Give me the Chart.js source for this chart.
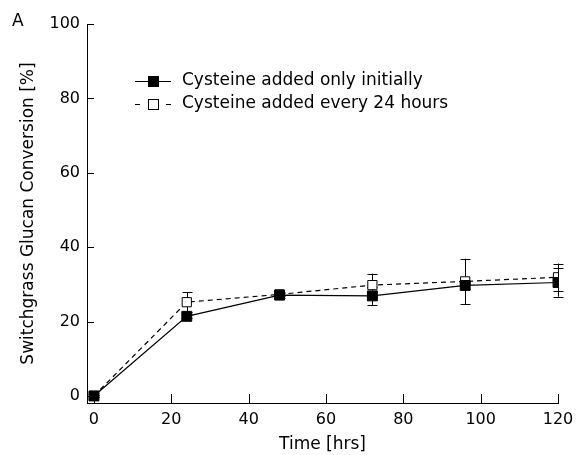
<!DOCTYPE html>
<html>
<head>
<meta charset="utf-8">
<script src="https://cdn.jsdelivr.net/npm/chart.js@4.4.1/dist/chart.umd.min.js"></script>
<style>
  html, body { margin: 0; padding: 0; background: #fff; }
  canvas { display: block; }
</style>
</head>
<body>
<canvas id="glucanChart" width="577" height="455"></canvas>
<script>
// values
const hours = [0, 24, 48, 72, 96, 120];
const initialOnly = [0, 21.4, 27.1, 26.9, 29.7, 30.5];
const initialOnlyErr = [0.3, 0.5, 0.8, 2.4, 1.0, 3.8];
const every24 = [0, 25.2, 27.3, 29.8, 30.8, 31.9];
const every24Err = [0.3, 2.7, 0.5, 3.1, 6.1, 3.7];
const xTicks = [0, 20, 40, 60, 80, 100, 120];
const yTicks = [0, 20, 40, 60, 80, 100];
const seriesNames = ['Cysteine added only initially', 'Cysteine added every 24 hours'];

const FONT = '"DejaVu Sans", sans-serif';

function toPoints(ys) {
    return hours.map((h, i) => ({ x: h, y: ys[i] }));
}

// error bars, drawn under the markers
const errorBars = {
    id: 'errorBars',
    beforeDatasetsDraw(chart) {
        const ctx = chart.ctx;
        const xs = chart.scales.x, ys = chart.scales.y;
        ctx.save();
        ctx.strokeStyle = '#000';
        ctx.lineWidth = 1;
        chart.data.datasets.forEach(ds => {
            ds.data.forEach((p, i) => {
                const e = ds.errors[i];
                if (!e) return;
                const px = Math.round(xs.getPixelForValue(p.x)) + 0.5;
                const top = ys.getPixelForValue(p.y + e);
                const bot = ys.getPixelForValue(p.y - e);
                ctx.beginPath();
                ctx.moveTo(px, top); ctx.lineTo(px, bot);
                ctx.moveTo(px - 5, Math.round(top) + 0.5); ctx.lineTo(px + 5, Math.round(top) + 0.5);
                ctx.moveTo(px - 5, Math.round(bot) + 0.5); ctx.lineTo(px + 5, Math.round(bot) + 0.5);
                ctx.stroke();
            });
        });
        ctx.restore();
    }
};

// inward tick marks, panel letter and the legend inside the plot
const decorations = {
    id: 'decorations',
    afterDraw(chart) {
        const ctx = chart.ctx;
        const xs = chart.scales.x, ys = chart.scales.y;
        const area = chart.chartArea;
        ctx.save();
        ctx.strokeStyle = '#000';
        ctx.lineWidth = 1;
        ctx.beginPath();
        yTicks.forEach(v => {
            const py = Math.round(ys.getPixelForValue(v)) + 0.5;
            ctx.moveTo(area.left, py); ctx.lineTo(area.left + 7, py);
        });
        xTicks.forEach(v => {
            const px = Math.round(xs.getPixelForValue(v)) + 0.5;
            ctx.moveTo(px, area.bottom); ctx.lineTo(px, area.bottom - 9);
        });
        ctx.stroke();

        ctx.fillStyle = '#000';
        ctx.font = '17px ' + FONT;
        ctx.textBaseline = 'middle';
        ctx.textAlign = 'left';
        ctx.fillText('A', 12, 22);

        const rows = [81, 104];
        chart.data.datasets.forEach((ds, i) => {
            const y = rows[i] + 0.5;
            ctx.strokeStyle = '#000';
            ctx.lineWidth = 1;
            ctx.beginPath();
            if (ds.borderDash && ds.borderDash.length) {
                ctx.moveTo(135, y); ctx.lineTo(140, y);
                ctx.moveTo(166, y); ctx.lineTo(171, y);
            } else {
                ctx.moveTo(135, y); ctx.lineTo(171, y);
            }
            ctx.stroke();
            ctx.fillStyle = ds.pointBackgroundColor;
            ctx.fillRect(148.5, y - 5, 10, 10);
            ctx.strokeRect(148.5, y - 5, 10, 10);
            ctx.fillStyle = '#000';
            ctx.fillText(ds.label, 182, rows[i]);
        });
        ctx.restore();
    }
};

const tickFont = { family: FONT, size: 16 };
const titleFont = { family: FONT, size: 17 };

new Chart(document.getElementById('glucanChart').getContext('2d'), {
    type: 'line',
    data: {
        datasets: [
            {
                label: seriesNames[0],
                data: toPoints(initialOnly),
                errors: initialOnlyErr,
                borderColor: '#000',
                borderWidth: 1.2,
                pointStyle: 'rect',
                pointRadius: 7,
                pointBackgroundColor: '#000',
                pointBorderColor: '#000',
                pointBorderWidth: 1,
                tension: 0
            },
            {
                label: seriesNames[1],
                data: toPoints(every24),
                errors: every24Err,
                borderColor: '#000',
                borderWidth: 1.2,
                borderDash: [5, 4],
                pointStyle: 'rect',
                pointRadius: 6.5,
                pointBackgroundColor: '#fff',
                pointBorderColor: '#000',
                pointBorderWidth: 1,
                tension: 0
            }
        ]
    },
    options: {
        responsive: false,
        animation: false,
        layout: { padding: { left: 0, right: 19, top: 24, bottom: 0 } },
        plugins: {
            legend: { display: false },
            tooltip: { enabled: false }
        },
        scales: {
            x: {
                type: 'linear',
                min: -1.8,
                max: 120,
                afterBuildTicks: s => { s.ticks = xTicks.map(v => ({ value: v })); },
                afterFit: s => { s.height = 52; s.paddingLeft = 0; s.paddingRight = 0; },
                grid: { display: false, drawTicks: false },
                border: { display: true, color: '#000', width: 1 },
                ticks: { color: '#000', font: tickFont, padding: 7, maxRotation: 0 },
                title: { display: true, text: 'Time [hrs]', color: '#000', font: titleFont, padding: { top: 3, bottom: 0 } }
            },
            y: {
                min: -1.9,
                max: 100,
                afterBuildTicks: s => { s.ticks = yTicks.map(v => ({ value: v })); },
                afterFit: s => { s.width = 87; s.paddingTop = 0; s.paddingBottom = 0; },
                grid: { display: false, drawTicks: false },
                border: { display: true, color: '#000', width: 1 },
                ticks: { color: '#000', font: tickFont, padding: 7 },
                title: { display: true, text: 'Switchgrass Glucan Conversion [%]', color: '#000', font: titleFont, padding: { top: 18, bottom: 0 } }
            }
        }
    },
    plugins: [errorBars, decorations]
});
</script>
</body>
</html>
